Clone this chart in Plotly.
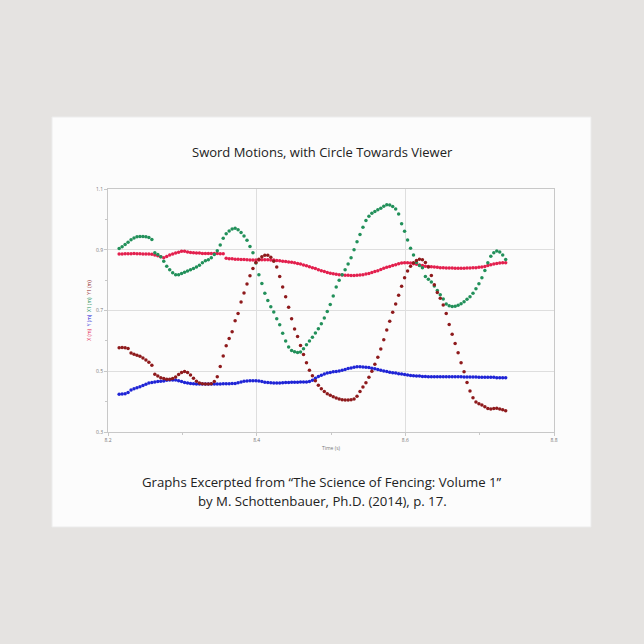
import plotly.graph_objects as go

# time samples (s)
t_start = 8.215
t_step = 0.004
n_pts = 131
time_s = [round(t_start + t_step * i, 4) for i in range(n_pts)]

x_m = [0.886, 0.886, 0.887, 0.887, 0.887, 0.888, 0.887, 0.887, 0.886, 0.886,
       0.886, 0.885, 0.883, 0.880, 0.877, 0.874, 0.878, 0.883, 0.886, 0.889,
       0.892, 0.895, 0.895, 0.893, 0.891, 0.890, 0.889, 0.889, 0.888, 0.888,
       0.888, 0.888, 0.888, 0.888, 0.887, 0.887, 0.872, 0.870, 0.870, 0.869,
       0.869, 0.868, 0.868, 0.867, 0.866, 0.866, 0.866, 0.866, 0.867, 0.867,
       0.867, 0.866, 0.866, 0.865, 0.864, 0.862, 0.861, 0.860, 0.859, 0.857,
       0.855, 0.853, 0.850, 0.847, 0.844, 0.841, 0.838, 0.834, 0.831, 0.828,
       0.825, 0.823, 0.821, 0.819, 0.818, 0.817, 0.816, 0.816, 0.815, 0.815,
       0.816, 0.817, 0.818, 0.820, 0.822, 0.825, 0.828, 0.831, 0.835, 0.839,
       0.842, 0.845, 0.848, 0.851, 0.854, 0.856, 0.857, 0.857, 0.856, 0.854,
       0.852, 0.850, 0.848, 0.846, 0.845, 0.844, 0.843, 0.842, 0.841, 0.841,
       0.840, 0.840, 0.840, 0.839, 0.839, 0.839, 0.839, 0.840, 0.840, 0.841,
       0.841, 0.842, 0.843, 0.845, 0.848, 0.851, 0.853, 0.855, 0.856, 0.857,
       0.857]

y_m = [0.424, 0.425, 0.426, 0.430, 0.438, 0.442, 0.446, 0.449, 0.453, 0.457,
       0.461, 0.463, 0.465, 0.466, 0.467, 0.468, 0.470, 0.471, 0.471, 0.471,
       0.469, 0.466, 0.463, 0.461, 0.460, 0.459, 0.458, 0.458, 0.458, 0.458,
       0.458, 0.458, 0.458, 0.458, 0.458, 0.459, 0.459, 0.459, 0.460, 0.460,
       0.462, 0.465, 0.467, 0.468, 0.469, 0.469, 0.469, 0.468, 0.466, 0.464,
       0.463, 0.462, 0.461, 0.461, 0.461, 0.462, 0.463, 0.463, 0.464, 0.464,
       0.464, 0.465, 0.465, 0.465, 0.466, 0.470, 0.477, 0.483, 0.487, 0.491,
       0.494, 0.496, 0.498, 0.499, 0.501, 0.503, 0.506, 0.509, 0.511, 0.513,
       0.515, 0.515, 0.514, 0.513, 0.512, 0.510, 0.508, 0.506, 0.503, 0.501,
       0.499, 0.497, 0.495, 0.494, 0.492, 0.491, 0.489, 0.488, 0.486, 0.485,
       0.484, 0.484, 0.483, 0.483, 0.482, 0.482, 0.482, 0.482, 0.482, 0.482,
       0.482, 0.482, 0.482, 0.482, 0.482, 0.482, 0.481, 0.481, 0.481, 0.481,
       0.481, 0.480, 0.480, 0.480, 0.480, 0.480, 0.480, 0.479, 0.479, 0.479,
       0.479]

x1_m = [0.904, 0.910, 0.917, 0.925, 0.933, 0.939, 0.943, 0.944, 0.944, 0.943,
        0.940, 0.934, 0.890, 0.884, 0.877, 0.862, 0.846, 0.834, 0.824, 0.818,
        0.818, 0.822, 0.826, 0.830, 0.834, 0.838, 0.843, 0.849, 0.857, 0.864,
        0.867, 0.874, 0.884, 0.897, 0.916, 0.938, 0.953, 0.962, 0.968, 0.971,
        0.966, 0.957, 0.945, 0.931, 0.911, 0.890, 0.856, 0.818, 0.789, 0.757,
        0.733, 0.712, 0.695, 0.673, 0.653, 0.625, 0.600, 0.580, 0.568, 0.564,
        0.562, 0.563, 0.574, 0.587, 0.600, 0.612, 0.626, 0.640, 0.656, 0.675,
        0.697, 0.720, 0.748, 0.777, 0.800, 0.818, 0.834, 0.853, 0.874, 0.900,
        0.926, 0.950, 0.974, 0.996, 1.010, 1.020, 1.026, 1.032, 1.037, 1.043,
        1.048, 1.047, 1.042, 1.034, 1.018, 0.986, 0.961, 0.932, 0.905, 0.883,
        0.858, 0.848, 0.841, 0.812, 0.803, 0.794, 0.781, 0.766, 0.752, 0.738,
        0.721, 0.716, 0.713, 0.714, 0.717, 0.722, 0.729, 0.737, 0.745, 0.757,
        0.772, 0.788, 0.808, 0.832, 0.857, 0.879, 0.890, 0.896, 0.893, 0.883,
        0.868]

y1_m = [0.577, 0.578, 0.577, 0.575, 0.560, 0.556, 0.553, 0.549, 0.544, 0.537,
        0.530, 0.520, 0.490, 0.484, 0.479, 0.476, 0.474, 0.474, 0.476, 0.481,
        0.489, 0.496, 0.499, 0.496, 0.488, 0.477, 0.467, 0.461, 0.459, 0.458,
        0.458, 0.459, 0.466, 0.482, 0.516, 0.550, 0.584, 0.608, 0.630, 0.666,
        0.690, 0.728, 0.758, 0.787, 0.814, 0.838, 0.858, 0.869, 0.877, 0.882,
        0.882, 0.875, 0.862, 0.843, 0.812, 0.777, 0.745, 0.711, 0.673, 0.639,
        0.614, 0.585, 0.555, 0.528, 0.503, 0.485, 0.469, 0.454, 0.442, 0.433,
        0.426, 0.421, 0.416, 0.412, 0.409, 0.406, 0.405, 0.405, 0.406, 0.409,
        0.418, 0.433, 0.448, 0.462, 0.480, 0.500, 0.523, 0.546, 0.573, 0.604,
        0.636, 0.665, 0.694, 0.721, 0.750, 0.780, 0.808, 0.830, 0.846, 0.857,
        0.865, 0.869, 0.867, 0.858, 0.843, 0.815, 0.785, 0.759, 0.740, 0.718,
        0.690, 0.654, 0.622, 0.591, 0.561, 0.528, 0.498, 0.463, 0.435, 0.413,
        0.399, 0.393, 0.389, 0.383, 0.377, 0.376, 0.377, 0.378, 0.376, 0.373,
        0.370]

x_ticks = [8.2, 8.4, 8.6, 8.8]
y_ticks = [0.3, 0.5, 0.7, 0.9, 1.1]

title_text = "Sword Motions, with Circle Towards Viewer"
caption_1 = "Graphs Excerpted from \u201cThe Science of Fencing: Volume 1\u201d"
caption_2 = "by M. Schottenbauer, Ph.D. (2014), p. 17."

col_x = "#e3204e"
col_y = "#1f24d6"
col_x1 = "#22905a"
col_y1 = "#8e1a1c"

fig = go.Figure()
series = [(x_m, col_x, "X (m)"), (y_m, col_y, "Y (m)"),
          (x1_m, col_x1, "X1 (m)"), (y1_m, col_y1, "Y1 (m)")]
for vals, col, name in series:
    fig.add_trace(go.Scatter(x=time_s, y=vals, mode="markers", name=name,
                             marker=dict(size=3.5, color=col, line=dict(width=0)),
                             showlegend=False))

W = 644
H = 644
PX0, PX1, PY0, PY1 = 108, 554, 189, 432
# postcard card (white)
fig.add_shape(type="rect", xref="paper", yref="paper",
              x0=(52 - PX0) / (PX1 - PX0), x1=(591 - PX0) / (PX1 - PX0),
              y0=(PY1 - 527) / (PY1 - PY0), y1=(PY1 - 117) / (PY1 - PY0),
              fillcolor="#fcfcfc", line=dict(color="#ececec", width=1), layer="below")

ytitle = ("<span style='color:%s'>X (m)</span>  <span style='color:%s'>Y (m)</span>  "
          "<span style='color:%s'>X1 (m)</span>  <span style='color:%s'>Y1 (m)</span>"
          % (col_x, col_y, col_x1, col_y1))

fig.update_layout(
    width=W, height=H,
    margin=dict(l=PX0, r=W - PX1, t=PY0, b=H - PY1),
    paper_bgcolor="#e5e3e1",
    plot_bgcolor="#fcfcfc",
    font=dict(family="Open Sans, Noto Sans, sans-serif", color="#333"),
    xaxis=dict(range=[8.2, 8.8], tickvals=x_ticks, ticktext=["8.2", "8.4", "8.6", "8.8"],
               showgrid=True, gridcolor="#dedede", gridwidth=1, zeroline=False,
               showline=True, linecolor="#c8c8c8", linewidth=1, mirror=True,
               ticks="outside", ticklen=3, tickcolor="#c8c8c8",
               tickfont=dict(size=5, color="#777"),
               minor=dict(tickvals=[8.3, 8.5, 8.7], ticks="outside", ticklen=2, tickcolor="#c8c8c8"),
               title=dict(text="Time (s)", font=dict(size=5, color="#777"), standoff=4)),
    yaxis=dict(range=[0.3, 1.1], tickvals=y_ticks, ticktext=["0.3", "0.5", "0.7", "0.9", "1.1"],
               showgrid=True, gridcolor="#dedede", gridwidth=1, zeroline=False,
               showline=True, linecolor="#c8c8c8", linewidth=1, mirror=True,
               ticks="outside", ticklen=3, tickcolor="#c8c8c8",
               tickfont=dict(size=5, color="#777"),
               minor=dict(tickvals=[0.4, 0.6, 0.8, 1.0], ticks="outside", ticklen=2, tickcolor="#c8c8c8"),
               title=dict(text=ytitle, font=dict(size=5), standoff=4)),
)

cx = (322 - PX0) / (PX1 - PX0)
fig.add_annotation(text=title_text, xref="paper", yref="paper",
                   x=cx, y=(PY1 - 152) / (PY1 - PY0),
                   showarrow=False, font=dict(size=13, color="#222"),
                   xanchor="center", yanchor="middle")
fig.add_annotation(text=caption_1, xref="paper", yref="paper",
                   x=cx, y=(PY1 - 482) / (PY1 - PY0),
                   showarrow=False, font=dict(size=13.2, color="#222"),
                   xanchor="center", yanchor="middle")
fig.add_annotation(text=caption_2, xref="paper", yref="paper",
                   x=cx, y=(PY1 - 501) / (PY1 - PY0),
                   showarrow=False, font=dict(size=13.2, color="#222"),
                   xanchor="center", yanchor="middle")

fig.write_html("out.html",
               config={"displayModeBar": False},
               post_script="document.body.style.margin='0';"
                           "document.body.style.background='#e5e3e1';"
                           "document.documentElement.style.overflow='hidden';")
